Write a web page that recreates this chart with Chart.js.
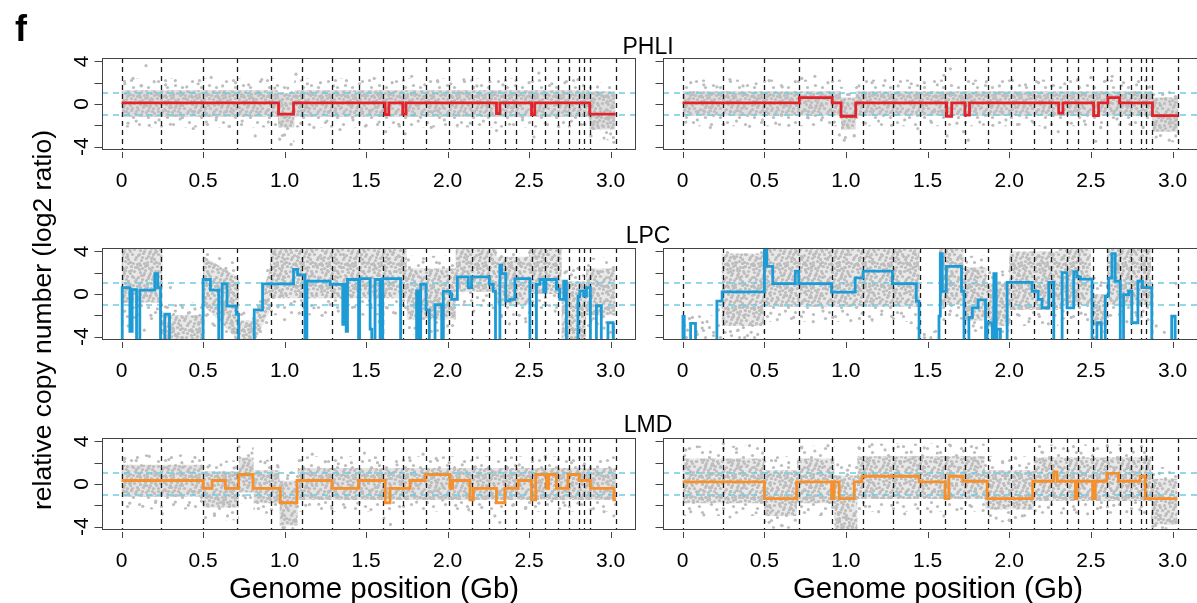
<!DOCTYPE html>
<html>
<head>
<meta charset="utf-8">
<script src="https://cdn.jsdelivr.net/npm/chart.js@4.4.1/dist/chart.umd.min.js"></script>
<style>
html, body { margin:0; padding:0; background:#fff; overflow:hidden; }
#wrap { position:relative; width:1197px; height:603px; font-family:"Liberation Sans", Arial, sans-serif; color:#000; }
#wrap canvas { position:absolute; }
.txt { position:absolute; white-space:nowrap; line-height:1; }
#fig { left:15px; top:11px; font-size:36px; font-weight:bold; }
.ttl { font-size:23px; transform:translateX(-50%); }
.xt { font-size:29.5px; transform:translateX(-50%); top:573px; }
#ylab { font-size:26.5px; left:42px; top:320px; transform:translate(-50%,-50%) rotate(-90deg); }
</style>
</head>
<body>
<div id="wrap">
	<div class="txt" id="fig">f</div>
	<div class="txt ttl" style="left:648px; top:35px;">PHLI</div>
	<div class="txt ttl" style="left:648px; top:224px;">LPC</div>
	<div class="txt ttl" style="left:648px; top:413px;">LMD</div>
	<div class="txt" id="ylab">relative copy number (log2 ratio)</div>
	<div class="txt xt" style="left:374px;">Genome position (Gb)</div>
	<div class="txt xt" style="left:938px;">Genome position (Gb)</div>
</div>
<script>
// axes
var xTicks = [0, 0.5, 1, 1.5, 2, 2.5, 3];
var xTickLabels = ["0", "0.5", "1.0", "1.5", "2.0", "2.5", "3.0"];
var yTicks = [-4, -2, 0, 2, 4];
var yTickLabels = ["-4", "", "0", "", "4"];
var refLines = [-1, 1];
// chromosome ends (Gb)
var chromEnds = [0, 0.245, 0.498, 0.71, 0.914, 1.106, 1.29, 1.455, 1.606, 1.727, 1.868, 2.011,
	2.151, 2.256, 2.352, 2.42, 2.516, 2.598, 2.677, 2.743, 2.804, 2.838, 2.873, 3.035];

//////// PHLI
var phliLeftBreaks = [0, 0.963, 1.055, 1.617, 1.64, 1.725, 1.745, 2.3, 2.321, 2.515, 2.535, 2.872, 3.031];
var phliLeftLevels = [0.1, -0.95, 0.1, -1.0, 0.1, -0.95, 0.1, -0.9, 0.1, -1.0, 0.1, -0.95];
var phliLeftCloudX = [0, 0.96, 0.96, 1.06, 1.06, 2.87, 2.87, 3.03];
var phliLeftCloudHi = [1.3, 1.3, 1.0, 1.0, 1.3, 1.3, 1.2, 1.2];
var phliLeftCloudLo = [-1.2, -1.2, -2.2, -2.2, -1.2, -1.2, -2.4, -2.4];
var phliLeftFringeHi = [2.4, 2.4, 2.0, 2.0, 2.4, 2.4, 2.0, 2.0];
var phliLeftFringeLo = [-2.2, -2.2, -3.6, -3.6, -2.2, -2.2, -3.4, -3.4];
var phliLeftDots = [[0.02,1.9],[0.04,-1.8],[0.07,2.4],[0.09,-1.6],[0.12,1.7],[0.15,3.6],[0.17,-2.0],[0.2,2.1],[0.23,-1.5],[0.27,1.8],
	[0.3,-1.9],[0.33,2.2],[0.36,-1.4],[0.4,1.6],[0.44,-2.3],[0.47,1.9],[0.52,-1.7],[0.55,2.5],[0.58,-1.5],[0.62,1.7],
	[0.66,-2.1],[0.7,2.0],[0.74,-1.6],[0.78,1.8],[0.82,-3.0],[0.86,2.3],[0.9,-1.7],[0.94,1.5],[0.97,-3.3],[1.0,-2.9],
	[1.02,1.5],[1.04,-3.8],[1.07,2.8],[1.1,-1.8],[1.14,1.9],[1.18,-2.2],[1.22,2.0],[1.26,-1.6],[1.3,1.7],[1.34,-2.4],
	[1.38,2.2],[1.42,-1.5],[1.46,1.9],[1.5,-2.0],[1.55,2.4],[1.58,-1.7],[1.62,-2.6],[1.66,2.0],[1.7,-1.9],[1.74,-2.8],
	[1.78,2.6],[1.82,-1.6],[1.86,1.8],[1.9,-2.2],[1.94,2.1],[1.98,-1.5],[2.02,1.9],[2.06,-2.0],[2.1,2.3],[2.14,-1.8],
	[2.18,1.7],[2.22,-1.6],[2.26,2.1],[2.3,-2.5],[2.34,1.8],[2.38,-1.9],[2.42,2.2],[2.46,-1.5],[2.5,2.0],[2.53,-3.1],
	[2.56,2.9],[2.6,-1.8],[2.64,1.9],[2.68,-2.1],[2.72,2.0],[2.76,-1.6],[2.8,2.3],[2.84,-1.9],[2.88,-3.0],[2.92,1.6],
	[2.96,-3.2],[3.0,-2.8],[3.02,-3.6]];

var phliRightBreaks = [0, 0.715, 0.916, 0.97, 1.06, 1.617, 1.648, 1.729, 1.757, 2.303, 2.329, 2.517, 2.547, 2.604, 2.676, 2.877, 3.036];
var phliRightLevels = [0.1, 0.6, 0.1, -1.15, 0.1, -1.15, 0.1, -1.05, 0.1, -0.85, 0.1, -1.1, 0.1, 0.6, 0.1, -1.1];
var phliRightCloudX = [0, 0.97, 0.97, 1.06, 1.06, 2.877, 2.877, 3.036];
var phliRightCloudHi = [1.2, 1.2, 0.6, 0.6, 1.2, 1.2, 0.6, 0.6];
var phliRightCloudLo = [-1.1, -1.1, -2.4, -2.4, -1.1, -1.1, -2.6, -2.6];
var phliRightFringeHi = [2.3, 2.3, 1.6, 1.6, 2.3, 2.3, 1.4, 1.4];
var phliRightFringeLo = [-2.1, -2.1, -3.6, -3.6, -2.1, -2.1, -3.6, -3.6];
var phliRightDots = [[0.02,-1.7],[0.05,2.0],[0.09,-1.5],[0.13,1.8],[0.17,-2.2],[0.21,1.6],[0.25,-1.9],[0.29,2.3],[0.33,-1.6],[0.37,1.7],
	[0.41,-2.1],[0.45,1.9],[0.49,-1.5],[0.53,2.2],[0.57,-1.8],[0.61,1.6],[0.65,-2.0],[0.69,2.1],[0.73,2.4],[0.77,-1.3],
	[0.81,2.6],[0.85,-1.5],[0.89,2.0],[0.93,-1.7],[0.96,-2.9],[0.99,-3.4],[1.02,0.9],[1.05,-3.0],[1.08,1.7],[1.12,-1.8],
	[1.16,2.0],[1.2,-1.6],[1.24,2.2],[1.28,-2.0],[1.32,1.7],[1.36,-1.5],[1.4,1.9],[1.44,-2.3],[1.48,2.0],[1.52,-1.6],
	[1.56,1.8],[1.6,2.7],[1.62,-3.0],[1.64,3.3],[1.68,-1.8],[1.72,-2.6],[1.75,-3.4],[1.78,1.9],[1.82,-1.7],[1.86,2.1],
	[1.9,-2.0],[1.94,1.7],[1.98,-1.5],[2.02,2.2],[2.06,-1.9],[2.1,1.8],[2.14,-1.6],[2.18,2.0],[2.22,-2.2],[2.26,1.7],
	[2.3,-2.6],[2.34,1.9],[2.38,-1.8],[2.42,2.3],[2.46,-1.6],[2.5,2.5],[2.53,-3.5],[2.56,-2.2],[2.6,2.2],[2.63,2.6],
	[2.66,-1.4],[2.7,2.0],[2.74,-1.9],[2.78,1.8],[2.82,-2.2],[2.86,1.6],[2.9,-3.1],[2.94,0.9],[2.98,-3.4],[3.02,-3.0]];

//////// LPC (-6 = below the plotted range)
var lpcLeftBreaks = [0, 0.004, 0.051, 0.065, 0.092, 0.112, 0.204, 0.222, 0.239, 0.265, 0.294, 0.5, 0.545, 0.596, 0.617,
	0.647, 0.704, 0.718, 0.814, 0.865, 1.055, 1.08, 1.125, 1.137, 1.28, 1.357, 1.365, 1.378, 1.386, 1.454, 1.46,
	1.525, 1.535, 1.555, 1.586, 1.602, 1.712, 1.81, 1.825, 1.835, 1.868, 1.888, 1.923, 1.964, 1.974, 2.015, 2.025,
	2.06, 2.127, 2.147, 2.256, 2.28, 2.294, 2.321, 2.331, 2.357, 2.382, 2.413, 2.505, 2.545, 2.566, 2.59, 2.603,
	2.668, 2.688, 2.713, 2.729, 2.8, 2.811, 2.835, 2.852, 2.876, 2.913, 2.943, 2.984, 3.015, 3.02];
var lpcLeftLevels = [-6, 0.6, -3.5, 0.4, -6, 0.36, 1.9, 0.6, -6, -1.9, -6, 1.36, 0.36, -6, 0.95,
	-1.14, -1.9, -6, -1.5, 0.95, 2.3, 1.8, -6, 1.2, 0.9, -2.85, 0.9, -3.5, 1.36, -6,
	1.45, -3.3, -6, 1.36, -6, 1.45, -6, 0.3, -6, 0.9, -1.5, -6, -1.0, -6, 0.25, 0.0,
	-0.5, 1.6, 0.6, 1.6, 0.9, 0.25, -6, 2.7, 1.9, -0.65, -0.5, 1.45, -6, 0.9, 1.36, 0.2,
	1.36, 0.45, -0.5, 1.2, -6, -0.2, 0.3, -0.2, 0.6, -6, -1.1, -6, -2.7, -6];
var lpcLeftCloudX = [0, 0.25, 0.25, 0.5, 0.5, 0.72, 0.72, 0.82, 0.91, 0.91, 1.75, 1.75, 2.05, 2.05, 2.3, 2.3, 2.5, 2.5, 2.7, 2.7, 2.85, 2.85, 3.03];
var lpcLeftCloudHi = [4.4, 4.4, -2.0, -2.0, 3.6, 1.5, -2.5, -2.5, 2.5, 4.4, 4.4, 2.4, 2.4, 4.4, 4.4, 3.5, 3.5, 4.4, 4.4, 1.2, 1.2, 2.4, 2.4];
var lpcLeftCloudLo = [-0.8, -0.8, -4.4, -4.4, -1.0, -4.4, -4.4, -4.4, -1.5, -0.4, -0.4, -2.4, -2.4, 0.2, 0.2, -1.0, -1.0, 0.0, 0.0, -4.4, -4.4, -2.0, -2.0];
var lpcLeftFringeHi = [4.4, 4.4, -0.8, -0.8, 4.4, 2.8, -1.5, -1.5, 3.5, 4.4, 4.4, 3.6, 3.6, 4.4, 4.4, 4.4, 4.4, 4.4, 4.4, 2.4, 2.4, 3.4, 3.4];
var lpcLeftFringeLo = [-2.5, -2.5, -4.4, -4.4, -2.6, -4.4, -4.4, -4.4, -3.0, -2.0, -2.0, -3.8, -3.8, -1.2, -1.2, -2.5, -2.5, -1.5, -1.5, -4.4, -4.4, -3.2, -3.2];
var lpcLeftDots = [[0.02,-1.6],[0.04,-3.0],[0.08,-2.2],[0.11,-1.2],[0.14,-3.4],[0.18,-2.0],[0.22,-1.4],[0.27,-1.2],[0.3,0.6],[0.33,-1.6],
	[0.37,-1.1],[0.41,-1.8],[0.45,-1.4],[0.48,-2.0],[0.52,-2.0],[0.56,-2.8],[0.6,-2.4],[0.64,2.4],[0.68,-3.6],[0.71,0.4],
	[0.75,-1.8],[0.79,-3.0],[0.84,-1.2],[0.88,-0.6],[0.92,-1.6],[0.96,-1.2],[1.0,-2.4],[1.04,-0.9],[1.09,-1.8],[1.13,-2.6],
	[1.18,-1.3],[1.23,-2.0],[1.28,-1.0],[1.33,-1.6],[1.38,-2.4],[1.43,-1.2],[1.48,-1.9],[1.53,-1.0],[1.58,-2.6],[1.63,-1.3],
	[1.68,-1.8],[1.72,2.8],[1.76,3.2],[1.8,-3.2],[1.85,3.0],[1.9,-3.5],[1.95,2.9],[2.0,-3.0],[2.04,-2.0],[2.1,-1.0],
	[2.16,-1.6],[2.22,-0.6],[2.28,-1.3],[2.33,-2.0],[2.38,-2.8],[2.44,-2.0],[2.48,-2.6],[2.54,-1.2],[2.6,-0.8],[2.66,-1.6],
	[2.72,2.0],[2.76,1.8],[2.8,2.4],[2.84,-2.6],[2.88,-2.5],[2.92,-2.8],[2.96,-3.2],[3.0,-3.6]];

var lpcRightBreaks = [0, 0.002, 0.01, 0.049, 0.079, 0.21, 0.242, 0.501, 0.515, 0.552, 0.69, 0.711, 0.912, 1.057,
	1.106, 1.285, 1.431, 1.448, 1.57, 1.578, 1.59, 1.615, 1.708, 1.723, 1.753, 1.774, 1.81, 1.855, 1.865, 1.896,
	1.906, 1.92, 1.926, 1.946, 1.987, 2.14, 2.177, 2.201, 2.242, 2.273, 2.324, 2.354, 2.395, 2.415, 2.436, 2.507,
	2.537, 2.564, 2.588, 2.609, 2.629, 2.649, 2.68, 2.7, 2.731, 2.751, 2.788, 2.816, 2.873, 2.995, 3.016, 3.036];
var lpcRightLevels = [-6, -2.1, -6, -2.75, -6, -0.67, 0.2, 4.5, 2.6, 0.98, 2.14, 0.98, 0.17,
	1.52, 2.14, 0.98, -0.67, -6, -2.07, 3.8, 0.26, 2.6, 0.26, -6, -2.2, -1.3, -0.55, -6, -2.7,
	-6, 1.9, -6, -3.3, -6, 1.1, 0.26, -0.5, -1.3, 1.1, -6, 2.0, -1.3, 2.1, 1.6, 1.4,
	-6, -2.7, -6, -0.2, 1.5, 3.8, 1.2, -6, -0.05, 0.26, -2.7, 1.2, 0.6, -6, -2.07, -6];
var lpcRightCloudX = [0, 0.24, 0.24, 0.5, 0.5, 1.45, 1.45, 1.57, 1.57, 1.72, 1.72, 1.86, 1.86, 2.0, 2.0, 2.3, 2.3, 2.5, 2.5, 2.6, 2.6, 2.87];
var lpcRightCloudHi = [-4.5, -4.5, 3.8, 3.8, 4.4, 4.4, -4.5, -4.5, 4.4, 4.4, 2.5, 2.5, 1.0, 1.0, 4.0, 4.0, 4.4, 4.4, 0.0, 0.0, 4.4, 4.4];
var lpcRightCloudLo = [-4.5, -4.5, -3.0, -3.0, -1.2, -1.2, -4.5, -4.5, -1.0, -1.0, -2.5, -2.5, -3.0, -3.0, -1.5, -1.5, -1.0, -1.0, -3.0, -3.0, -1.0, -1.0];
var lpcRightFringeHi = [-2.0, -2.0, 4.4, 4.4, 4.4, 4.4, -3.5, -3.5, 4.4, 4.4, 3.6, 3.6, 2.2, 2.2, 4.4, 4.4, 4.4, 4.4, 1.2, 1.2, 4.4, 4.4];
var lpcRightFringeLo = [-4.5, -4.5, -4.4, -4.4, -2.6, -2.6, -4.5, -4.5, -2.4, -2.4, -3.8, -3.8, -4.4, -4.4, -3.0, -3.0, -2.4, -2.4, -4.4, -4.4, -2.4, -2.4];
var lpcRightDots = [[0.03,-3.4],[0.06,-2.2],[0.09,-3.8],[0.12,-3.2],[0.15,-2.6],[0.19,-3.6],[0.22,-1.5],[0.26,-3.6],[0.3,-3.9],[0.34,-3.4],
	[0.38,-4.1],[0.42,-3.6],[0.46,-3.8],[0.54,-1.8],[0.58,-2.4],[0.63,-1.6],[0.68,-2.2],[0.74,-1.7],[0.8,-2.6],[0.86,-1.6],
	[0.92,-2.2],[0.98,-1.6],[1.03,-2.5],[1.1,-1.8],[1.16,-2.4],[1.22,-1.6],[1.28,-2.1],[1.34,-1.8],[1.4,-2.7],[1.44,-3.2],
	[1.48,-3.8],[1.52,-4.1],[1.55,-3.5],[1.6,-2.4],[1.64,-1.6],[1.68,-2.0],[1.74,3.0],[1.78,-3.0],[1.83,3.2],[1.88,2.0],
	[1.92,-3.6],[1.96,1.8],[2.0,-2.4],[2.06,-2.0],[2.12,-2.6],[2.18,-1.9],[2.24,-2.8],[2.28,-2.0],[2.33,-1.6],[2.38,-2.2],
	[2.44,-1.8],[2.48,-2.4],[2.52,1.5],[2.56,0.8],[2.62,-2.0],[2.68,-1.6],[2.72,-2.6],[2.78,-2.0],[2.82,-1.6],[2.85,-2.4],
	[2.9,-3.0],[2.95,-3.6],[3.0,-2.2],[3.02,1.0]];

//////// LMD
var lmdLeftBreaks = [0, 0.5, 0.555, 0.637, 0.718, 0.806, 0.974, 1.076, 1.29, 1.454, 1.617, 1.647, 1.77, 1.862, 2.015,
	2.031, 2.137, 2.158, 2.3, 2.351, 2.433, 2.515, 2.541, 2.607, 2.62, 2.668, 2.739, 2.807, 2.876, 3.02, 3.035];
var lmdLeftLevels = [0.33, -0.42, 0.33, -0.42, 0.89, -0.42, -1.76, 0.33, -0.42, 0.33, -1.76, -0.42, 0.33, 0.89, -0.42,
	0.33, -1.5, -0.42, -1.76, -0.42, 0.33, -1.5, 0.89, -0.42, 0.89, -0.42, 0.89, 0.33, -0.42, -1.5];
var lmdLeftCloudX = [0, 0.5, 0.5, 0.72, 0.72, 0.81, 0.81, 0.97, 0.97, 1.08, 1.08, 3.035];
var lmdLeftCloudHi = [1.8, 1.8, 1.2, 1.2, 2.5, 2.5, 1.3, 1.3, 0.3, 0.3, 1.5, 1.5];
var lmdLeftCloudLo = [-1.2, -1.2, -2.2, -2.2, -0.8, -0.8, -1.8, -1.8, -3.9, -3.9, -1.5, -1.5];
var lmdLeftFringeHi = [2.8, 2.8, 2.2, 2.2, 3.5, 3.5, 2.3, 2.3, 1.4, 1.4, 2.6, 2.6];
var lmdLeftFringeLo = [-2.4, -2.4, -3.4, -3.4, -1.8, -1.8, -2.8, -2.8, -4.4, -4.4, -2.6, -2.6];
var lmdLeftDots = [[0.02,2.4],[0.05,-1.8],[0.09,2.2],[0.13,-2.1],[0.17,2.6],[0.21,-1.6],[0.25,-2.8],[0.29,2.3],[0.33,-1.7],[0.37,2.0],
	[0.41,-2.0],[0.45,2.5],[0.49,-1.6],[0.53,1.6],[0.57,-2.8],[0.61,1.8],[0.65,-3.0],[0.69,1.5],[0.72,3.5],[0.76,-1.3],
	[0.8,2.9],[0.84,-2.3],[0.88,2.0],[0.92,-2.4],[0.96,1.6],[0.99,-4.1],[1.02,0.8],[1.05,-4.2],[1.09,2.2],[1.13,-2.0],
	[1.17,2.8],[1.21,-1.9],[1.25,2.1],[1.29,-2.3],[1.33,1.9],[1.37,-2.2],[1.41,2.0],[1.45,-1.8],[1.49,2.9],[1.53,-2.4],
	[1.57,2.0],[1.61,-3.2],[1.65,-3.8],[1.69,1.8],[1.73,-2.1],[1.77,2.2],[1.81,-1.7],[1.85,2.8],[1.89,-1.3],[1.93,2.4],
	[1.97,-1.5],[2.01,2.0],[2.05,-2.0],[2.09,1.8],[2.13,-2.4],[2.17,1.6],[2.21,-2.2],[2.25,1.4],[2.29,-3.0],[2.32,-3.6],
	[2.36,1.6],[2.4,-2.0],[2.44,1.8],[2.48,-2.2],[2.52,2.4],[2.56,-1.8],[2.6,2.6],[2.64,-1.6],[2.68,2.3],[2.72,-2.0],
	[2.76,2.0],[2.8,-1.8],[2.84,1.9],[2.88,-2.4],[2.92,1.6],[2.96,-2.6],[3.0,1.2],[3.02,-3.0]];

var lmdRightBreaks = [0, 0.501, 0.698, 0.912, 0.928, 0.959, 1.051, 1.098, 1.448, 1.607, 1.631, 1.717, 1.865, 2.144,
	2.273, 2.293, 2.405, 2.415, 2.511, 2.527, 2.598, 2.669, 2.802, 2.833, 3.03];
var lmdRightLevels = [0.2, -1.38, 0.2, -1.38, 0.2, -1.38, 0.2, 0.73, 0.2, -1.38, 0.73, 0.26, -1.38, 0.26, 1.14, 0.26,
	-1.38, 0.26, -1.38, 0.26, 1.0, 0.26, 0.73, -1.38];
var lmdRightCloudX = [0, 0.5, 0.5, 0.7, 0.7, 0.93, 0.93, 1.07, 1.07, 1.85, 1.85, 2.15, 2.15, 2.87, 2.87, 3.03];
var lmdRightCloudHi = [2.4, 2.4, 1.3, 1.3, 2.4, 2.4, 0.8, 0.8, 2.6, 2.6, 1.3, 1.3, 2.5, 2.5, 0.5, 0.5];
var lmdRightCloudLo = [-1.8, -1.8, -3.0, -3.0, -1.8, -1.8, -4.3, -4.3, -1.4, -1.4, -2.4, -2.4, -1.6, -1.6, -3.8, -3.8];
var lmdRightFringeHi = [3.6, 3.6, 2.6, 2.6, 3.6, 3.6, 2.0, 2.0, 3.8, 3.8, 2.6, 2.6, 3.7, 3.7, 1.6, 1.6];
var lmdRightFringeLo = [-3.0, -3.0, -4.2, -4.2, -3.0, -3.0, -4.4, -4.4, -2.6, -2.6, -3.6, -3.6, -2.8, -2.8, -4.4, -4.4];
var lmdRightDots = [[0.02,3.2],[0.05,-2.6],[0.09,3.5],[0.13,-2.9],[0.17,3.0],[0.21,-2.4],[0.25,3.8],[0.29,-3.1],[0.33,3.3],[0.37,-2.3],
	[0.41,3.6],[0.45,-2.7],[0.49,2.9],[0.53,-3.6],[0.57,2.2],[0.61,-3.9],[0.65,2.0],[0.69,-3.4],[0.73,3.4],[0.77,-2.4],
	[0.81,3.1],[0.85,-2.8],[0.89,3.6],[0.92,-2.2],[0.95,1.8],[0.98,-4.2],[1.01,1.3],[1.04,-4.0],[1.08,3.4],[1.12,-2.1],
	[1.16,3.7],[1.2,-2.6],[1.24,3.2],[1.28,-2.0],[1.32,3.5],[1.36,-2.8],[1.4,3.0],[1.44,-2.3],[1.48,3.4],[1.52,-2.6],
	[1.56,2.9],[1.6,-3.0],[1.64,3.6],[1.68,-2.4],[1.72,3.1],[1.76,-2.0],[1.8,3.4],[1.84,-2.5],[1.88,2.2],[1.92,-3.2],
	[1.96,2.0],[2.0,-3.4],[2.04,2.4],[2.08,-3.0],[2.12,1.9],[2.16,-2.5],[2.2,3.0],[2.24,-2.2],[2.28,3.4],[2.32,-2.7],
	[2.36,3.1],[2.4,-2.4],[2.44,2.9],[2.48,-2.8],[2.52,3.2],[2.56,-2.2],[2.6,3.6],[2.64,-2.0],[2.68,3.3],[2.72,-2.6],
	[2.76,3.0],[2.8,-2.4],[2.84,2.6],[2.88,-4.0],[2.92,1.0],[2.96,-4.2],[3.0,0.4],[3.02,-3.6]];

var panels = [
	{row: 0, col: 0, breaks: phliLeftBreaks, levels: phliLeftLevels, cx: phliLeftCloudX, hi: phliLeftCloudHi, lo: phliLeftCloudLo, fhi: phliLeftFringeHi, flo: phliLeftFringeLo, dots: phliLeftDots, color: "#e4222a", haze: 0.5},
	{row: 0, col: 1, breaks: phliRightBreaks, levels: phliRightLevels, cx: phliRightCloudX, hi: phliRightCloudHi, lo: phliRightCloudLo, fhi: phliRightFringeHi, flo: phliRightFringeLo, dots: phliRightDots, color: "#e4222a", haze: 0.5},
	{row: 1, col: 0, breaks: lpcLeftBreaks, levels: lpcLeftLevels, cx: lpcLeftCloudX, hi: lpcLeftCloudHi, lo: lpcLeftCloudLo, fhi: lpcLeftFringeHi, flo: lpcLeftFringeLo, dots: lpcLeftDots, color: "#1c9bd6", haze: 0.35},
	{row: 1, col: 1, breaks: lpcRightBreaks, levels: lpcRightLevels, cx: lpcRightCloudX, hi: lpcRightCloudHi, lo: lpcRightCloudLo, fhi: lpcRightFringeHi, flo: lpcRightFringeLo, dots: lpcRightDots, color: "#1c9bd6", haze: 0.35},
	{row: 2, col: 0, breaks: lmdLeftBreaks, levels: lmdLeftLevels, cx: lmdLeftCloudX, hi: lmdLeftCloudHi, lo: lmdLeftCloudLo, fhi: lmdLeftFringeHi, flo: lmdLeftFringeLo, dots: lmdLeftDots, color: "#f6902c", haze: 0.42},
	{row: 2, col: 1, breaks: lmdRightBreaks, levels: lmdRightLevels, cx: lmdRightCloudX, hi: lmdRightCloudHi, lo: lmdRightCloudLo, fhi: lmdRightFringeHi, flo: lmdRightFringeLo, dots: lmdRightDots, color: "#f6902c", haze: 0.35}
];

var xMin = -0.12, xMax = 3.156;
var yMin = -4.32, yMax = 4.32;
var axisColor = "#444";
var pointColor = "#bdbdbd";
var tickFont = '21px "Liberation Sans", Arial, sans-serif';

// speckle textures used to fill the point clouds
var coreSpots = [[1,2],[7,0],[12,4],[17,1],[22,3],[4,7],[10,8],[15,6],[20,9],[25,7],[2,12],[8,13],
	[13,11],[18,14],[23,12],[5,17],[11,18],[16,16],[21,19],[0,20],[9,21],[14,21],[24,17],[19,4],
	[5,3],[10,1],[14,9],[21,6],[0,9],[6,15],[12,15],[19,11],[24,21],[3,21],[17,20],[9,5],[22,15],[15,2]];
var fringeSpots = [[3,4],[19,2],[28,12],[10,15],[22,21],[5,25],[15,8],[31,27],[12,27],[25,6],[1,17],[29,20]];

function speckle(w, h, spots, base) {
	var t = document.createElement("canvas");
	t.width = w; t.height = h;
	var g = t.getContext("2d");
	if (base) { g.fillStyle = base; g.fillRect(0, 0, w, h); }
	g.fillStyle = pointColor;
	spots.forEach(function(s) {
		for (var dx = -w; dx <= w; dx += w) {
			for (var dy = -h; dy <= h; dy += h) {
				g.beginPath();
				g.arc(s[0] + dx + 0.5, s[1] + dy + 0.5, 1.6, 0, Math.PI * 2);
				g.fill();
			}
		}
	});
	return g.createPattern(t, "repeat");
}

// dashed guides, drawn under the segment line
function drawGuides(chart) {
	var c = chart.ctx, a = chart.chartArea, sx = chart.scales.x, sy = chart.scales.y;
	c.save();
	c.beginPath();
	c.rect(a.left, a.top, a.right - a.left, a.bottom - a.top);
	c.clip();
	c.lineWidth = 1.6;
	c.strokeStyle = "#6ccbe3";
	c.setLineDash([6, 5]);
	refLines.forEach(function(v) {
		var y = Math.round(sy.getPixelForValue(v));
		c.beginPath(); c.moveTo(a.left, y); c.lineTo(a.right, y); c.stroke();
	});
	c.lineWidth = 1.3;
	c.strokeStyle = "#1a1a1a";
	c.setLineDash([5, 4]);
	chromEnds.forEach(function(v) {
		var x = Math.round(sx.getPixelForValue(v)) + 0.5;
		c.beginPath(); c.moveTo(x, a.top); c.lineTo(x, a.bottom); c.stroke();
	});
	c.restore();
}

// box + R style axes
function drawFrame(chart, showYLabels) {
	var c = chart.ctx, a = chart.chartArea, sx = chart.scales.x, sy = chart.scales.y;
	c.save();
	c.strokeStyle = axisColor;
	c.lineWidth = 1;
	c.setLineDash([]);
	c.strokeRect(a.left + 0.5, a.top + 0.5, a.right - a.left - 1, a.bottom - a.top - 1);
	var l = a.left + 0.5;
	c.beginPath();
	c.moveTo(l, sy.getPixelForValue(yTicks[0]));
	c.lineTo(l, sy.getPixelForValue(yTicks[yTicks.length - 1]));
	yTicks.forEach(function(v) {
		var y = Math.round(sy.getPixelForValue(v)) + 0.5;
		c.moveTo(l, y); c.lineTo(l - 8, y);
	});
	xTicks.forEach(function(v) {
		var x = Math.round(sx.getPixelForValue(v)) + 0.5;
		c.moveTo(x, a.bottom + 2); c.lineTo(x, a.bottom + 8);
	});
	c.stroke();
	c.fillStyle = "#000";
	c.font = tickFont;
	c.textAlign = "center";
	c.textBaseline = "alphabetic";
	xTicks.forEach(function(v, i) {
		c.fillText(xTickLabels[i], sx.getPixelForValue(v), a.bottom + 37);
	});
	if (showYLabels) {
		yTicks.forEach(function(v, i) {
			if (!yTickLabels[i]) return;
			c.save();
			c.translate(a.left - 14, sy.getPixelForValue(v));
			c.rotate(-Math.PI / 2);
			c.fillText(yTickLabels[i], 0, 0);
			c.restore();
		});
	}
	c.restore();
}

function toPts(xs, ys) {
	return xs.map(function(x, i) { return {x: x, y: ys[i]}; });
}

function edge(pts, order) {
	return {type: "line", data: pts, borderColor: "transparent", borderWidth: 0, pointRadius: 0, fill: false, order: order};
}

function makePanel(p) {
	var cv = document.createElement("canvas");
	var w = p.col == 0 ? 640 : 562;
	cv.width = w;
	cv.height = 190;
	cv.style.left = (p.col == 0 ? 0 : 640) + "px";
	cv.style.top = (30 + 190 * p.row) + "px";
	document.getElementById("wrap").insertBefore(cv, document.getElementById("fig"));

	var seg = [];
	for (var i = 0; i < p.levels.length; i++) {
		seg.push({x: p.breaks[i], y: p.levels[i]});
		seg.push({x: p.breaks[i + 1], y: p.levels[i]});
	}
	var dots = p.dots.map(function(d) { return {x: d[0], y: d[1]}; });

	var fringeTop = edge(toPts(p.cx, p.fhi), 7);
	var fringeBot = edge(toPts(p.cx, p.flo), 6);
	fringeBot.fill = "-1";
	fringeBot.backgroundColor = speckle(34, 30, fringeSpots, null);
	var coreTop = edge(toPts(p.cx, p.hi), 5);
	var coreBot = edge(toPts(p.cx, p.lo), 4);
	coreBot.fill = "-1";
	coreBot.backgroundColor = speckle(26, 22, coreSpots, "rgba(189, 189, 189, " + p.haze + ")");

	return new Chart(cv, {
		type: "scatter",
		data: {
			datasets: [fringeTop, fringeBot, coreTop, coreBot, {
				data: dots,
				pointRadius: 1.6,
				pointBackgroundColor: pointColor,
				pointBorderWidth: 0,
				order: 2
			}, {
				type: "line",
				data: seg,
				borderColor: p.color,
				borderWidth: 2.8,
				borderJoinStyle: "miter",
				pointRadius: 0,
				fill: false,
				order: 1
			}]
		},
		options: {
			responsive: false,
			animation: false,
			events: [],
			layout: {padding: {left: p.col == 0 ? 102 : 23, right: p.col == 0 ? 4 : 2, top: 28, bottom: 70}},
			plugins: {legend: {display: false}, tooltip: {enabled: false}},
			scales: {
				x: {type: "linear", min: xMin, max: xMax, display: false},
				y: {type: "linear", min: yMin, max: yMax, display: false}
			}
		},
		plugins: [{
			id: "cnFrame",
			beforeDatasetDraw: function(chart, args) {
				if (args.index == 5) drawGuides(chart);
			},
			afterDraw: function(chart) {
				drawFrame(chart, p.col == 0);
			}
		}]
	});
}

var charts = panels.map(makePanel);
</script>
</body>
</html>
